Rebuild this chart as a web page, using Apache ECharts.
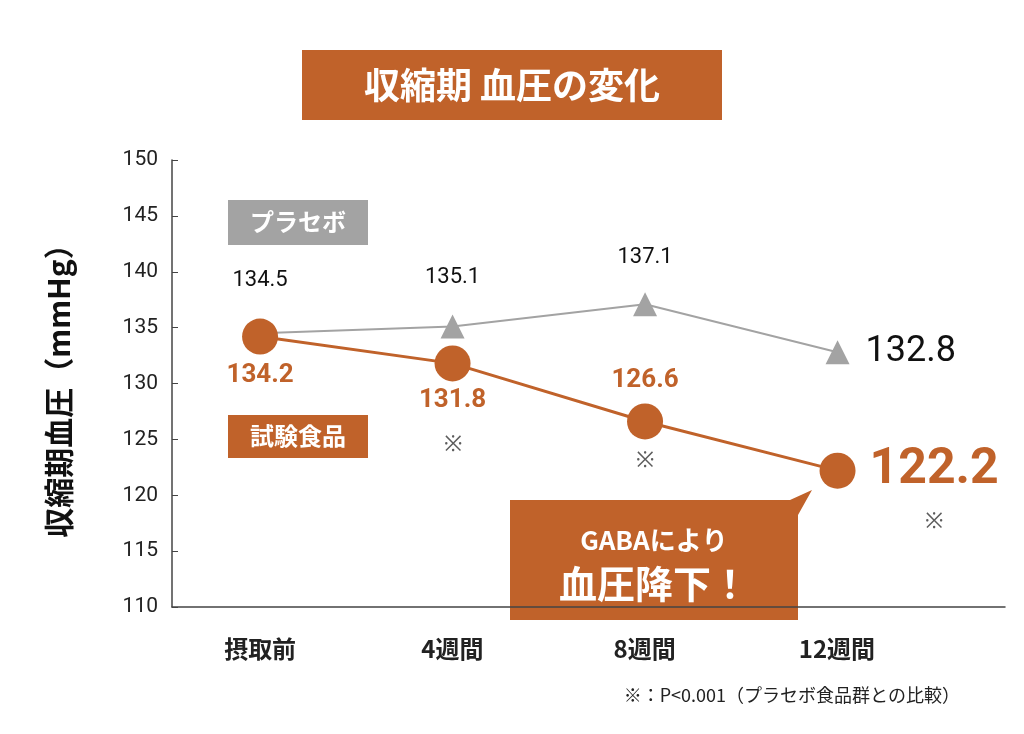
<!DOCTYPE html>
<html><head><meta charset="utf-8">
<script src="https://cdn.jsdelivr.net/npm/echarts@6/dist/echarts.min.js"></script>
<style>html,body{margin:0;background:#fff}#chart{width:1024px;height:734px}</style>
</head><body><div id="chart"></div>
<script>
const categories = ["摂取前", "4週間", "8週間", "12週間"]
const placeboValues = [134.5, 135.1, 137.1, 132.8]
const testValues = [134.2, 131.8, 126.6, 122.2]
// position of the ※ marks (x index, y value)
const significantMarks = [[1, 124.5], [2, 123.1], [3.5, 117.6]]

const orange = '#c0622a'
const gray = '#a3a3a3'
const font = '"Noto Sans CJK JP", sans-serif'

let myChart = echarts.init(document.getElementById('chart'), null, {renderer: 'canvas'})

const placeboLabels = [
    {position: 'top', distance: 30, fontSize: 22},
    {position: 'top', distance: 26, fontSize: 22},
    {position: 'top', distance: 24, fontSize: 22},
    {position: 'right', distance: 16, fontSize: 36}
]
const testLabels = [
    {position: 'bottom', distance: 8, fontSize: 26},
    {position: 'bottom', distance: 6, fontSize: 26},
    {position: 'top', distance: 10, fontSize: 26},
    {position: 'right', distance: 14, fontSize: 50}
]

let option = {
    animation: false,
    grid: [
        {left: 172, right: 19, top: 160, bottom: 127},
        {left: 164, width: 769, top: 160, bottom: 127}
    ],
    xAxis: [
        {
            type: 'value', min: -0.4575, max: 3.87, gridIndex: 0,
            axisLine: {show: true, onZero: false, lineStyle: {color: '#444', width: 1.5}},
            axisTick: {show: false}, splitLine: {show: false}, axisLabel: {show: false}
        },
        {
            type: 'category', data: categories, gridIndex: 1,
            axisLine: {show: false}, axisTick: {show: false},
            axisLabel: {margin: 30, fontSize: 24, fontWeight: 'bold', color: '#222', fontFamily: font}
        }
    ],
    yAxis: [
        {
            type: 'value', min: 110, max: 150, interval: 5, gridIndex: 0,
            axisLine: {show: true, onZero: false, lineStyle: {color: '#444', width: 1.5}},
            axisTick: {show: true, length: 6, inside: true, lineStyle: {color: '#444'}},
            splitLine: {show: false},
            axisLabel: {fontSize: 21, color: '#222', margin: 14, fontFamily: 'Roboto'},
            name: '収縮期血圧（mmHg）', nameLocation: 'middle', nameGap: 98, nameRotate: 90,
            nameTextStyle: {fontSize: 30, fontWeight: 'bold', color: '#111', fontFamily: font}
        },
        {type: 'value', gridIndex: 1, show: false}
    ],
    series: [
        {
            type: 'line',
            data: placeboValues.map((v, i) => ({
                value: [i, v],
                label: {show: true, formatter: String(v), color: '#111', fontFamily: 'Roboto', ...placeboLabels[i]}
            })),
            symbol: 'triangle', symbolSize: 24,
            lineStyle: {color: gray, width: 2}, itemStyle: {color: gray}, z: 2
        },
        {
            type: 'line',
            data: testValues.map((v, i) => ({
                value: [i, v],
                label: {show: true, formatter: String(v), color: orange, fontWeight: 'bold', fontFamily: 'Roboto', ...testLabels[i]}
            })),
            symbol: 'circle', symbolSize: 36,
            lineStyle: {color: orange, width: 3}, itemStyle: {color: orange}, z: 3
        },
        {
            type: 'scatter',
            data: significantMarks,
            symbolSize: 0,
            label: {show: true, formatter: '※', position: 'inside', fontSize: 22, color: '#333'}
        }
    ],
    graphic: [
        {type: 'rect', shape: {x: 302, y: 50, width: 420, height: 70}, style: {fill: orange}},
        {type: 'text', x: 512, y: 85, style: {text: '収縮期 血圧の変化', fill: '#fff', font: 'bold 36px ' + font, align: 'center', verticalAlign: 'middle'}},
        {type: 'rect', shape: {x: 228, y: 200, width: 140, height: 45}, style: {fill: gray}},
        {type: 'text', x: 298, y: 222, style: {text: 'プラセボ', fill: '#fff', font: 'bold 24px ' + font, align: 'center', verticalAlign: 'middle'}},
        {type: 'rect', shape: {x: 228, y: 415, width: 140, height: 43}, style: {fill: orange}},
        {type: 'text', x: 298, y: 436, style: {text: '試験食品', fill: '#fff', font: 'bold 24px ' + font, align: 'center', verticalAlign: 'middle'}},
        {type: 'polygon', shape: {points: [[510, 500], [790, 500], [812, 490], [798, 515], [798, 620], [510, 620]]}, style: {fill: orange}},
        {type: 'text', x: 654, y: 540, style: {text: 'GABAにより', fill: '#fff', font: 'bold 26px ' + font, align: 'center', verticalAlign: 'middle'}},
        {type: 'text', x: 654, y: 584, style: {text: '血圧降下！', fill: '#fff', font: 'bold 38px ' + font, align: 'center', verticalAlign: 'middle'}},
        {type: 'text', x: 960, y: 695, style: {text: '※：P<0.001（プラセボ食品群との比較）', fill: '#222', font: '18px ' + font, align: 'right', verticalAlign: 'middle'}}
    ]
}
myChart.setOption(option)
</script></body></html>
